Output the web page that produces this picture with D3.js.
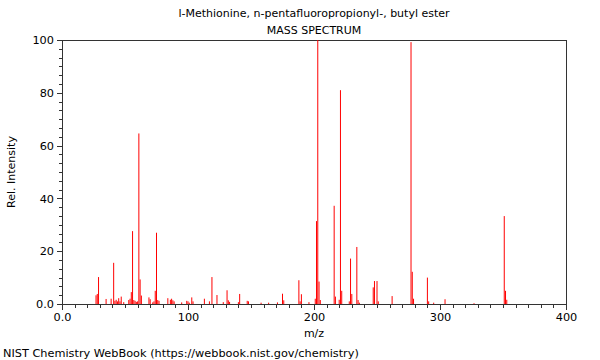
<!DOCTYPE html>
<html><head><meta charset="utf-8">
<script src="https://cdn.jsdelivr.net/npm/d3@7"></script>
<style>body{margin:0;background:#fff}svg{display:block}text{font-family:"DejaVu Sans",sans-serif;fill:#000}</style>
</head><body>
<svg id="c" width="600" height="360"></svg>
<script>
const title = "l-Methionine, n-pentafluoropropionyl-, butyl ester";
const subtitle = "MASS SPECTRUM";
const xLabel = "m/z";
const yLabel = "Rel. Intensity";
const footer = "NIST Chemistry WebBook (https://webbook.nist.gov/chemistry)";
const xTicks = [0, 100, 200, 300, 400];
const xTickLabels = ["0.0", "100", "200", "300", "400"];
const yTicks = [0, 20, 40, 60, 80, 100];
const yTickLabels = ["0.0", "20", "40", "60", "80", "100"];
const mz = [27,28,29,35,39,41,42,43,44,45,46,47,49,53,54,55,56,57,58,59,60,61,62,63,69,70,72,73,74,75,76,77,84,86,87,88,89,95,99,100,101,103,104,113,117,119,123,128,131,132,133,140,141,147,148,158,164,171,175,176,188,189,190,196,201,202,203,204,205,216,217,220,221,222,228,229,230,234,235,236,247,248,250,251,262,277,278,279,290,291,295,304,327,351,352,353];
const intensity = [3.3,3.8,10.2,1.9,2.0,15.6,1.2,1.6,1.0,2.2,1.0,2.8,0.7,1.5,2.0,4.5,27.6,1.5,1.2,0.8,1.0,64.6,9.3,3.2,2.5,1.8,0.6,1.0,5.0,27.0,1.5,1.2,2.2,1.6,2.0,1.4,1.0,0.6,1.2,1.0,0.5,2.5,1.0,2.0,1.0,10.2,3.4,0.7,5.2,1.4,0.8,0.7,3.8,1.2,1.0,0.5,0.5,0.6,3.9,1.4,9.0,1.0,3.7,0.7,2.0,31.4,100,8.5,1.5,37.2,2.8,1.6,81.0,5.0,1.0,17.2,3.8,21.6,1.5,0.5,6.3,8.7,8.7,1.0,3.0,99.2,12.2,2.0,10.0,1.0,0.5,1.8,0.3,33.3,5.0,1.6];

const svg = d3.select("#c");
const L = 62, R = 566, T = 40, B = 304;
const x = d3.scaleLinear().domain([0, 400]).range([L, R]);
const y = d3.scaleLinear().domain([0, 100]).range([B, T]);
const axisColor = "#333";

// frame
svg.append("rect").attr("x", L).attr("y", T).attr("width", R - L).attr("height", B - T)
  .attr("fill", "none").attr("stroke", axisColor).attr("stroke-width", 1).attr("shape-rendering", "crispEdges");

// bars
svg.append("g").selectAll("line").data(mz.map((m, i) => [m, intensity[i]])).join("line")
  .attr("x1", d => x(d[0])).attr("x2", d => x(d[0]))
  .attr("y1", y(0)).attr("y2", d => y(d[1]))
  .attr("stroke", "#ff0000").attr("stroke-width", 1);

// x minor ticks
const xMinor = d3.range(0, 401, 10).filter(v => v % 100 !== 0);
const gxm = svg.append("g").attr("transform", `translate(0,${B})`)
  .call(d3.axisBottom(x).tickValues(xMinor).tickSize(4).tickFormat("").tickSizeOuter(0));
const gx = svg.append("g").attr("transform", `translate(0,${B})`)
  .call(d3.axisBottom(x).tickValues(xTicks).tickSize(6).tickPadding(3).tickSizeOuter(0)
    .tickFormat((d, i) => xTickLabels[i]));
// y minor ticks
const yMinor = d3.range(0, 100.01, 20 / 6).filter((v, i) => i % 6 !== 0);
const gym = svg.append("g").attr("transform", `translate(${L},0)`)
  .call(d3.axisLeft(y).tickValues(yMinor).tickSize(3).tickFormat("").tickSizeOuter(0));
const gy = svg.append("g").attr("transform", `translate(${L},0)`)
  .call(d3.axisLeft(y).tickValues(yTicks).tickSize(5).tickPadding(3).tickSizeOuter(0)
    .tickFormat((d, i) => yTickLabels[i]));
[gxm, gx, gym, gy].forEach(g => {
  g.selectAll("path,line").attr("stroke", axisColor).attr("shape-rendering", "crispEdges");
  g.selectAll("text").style("font-family", "DejaVu Sans").style("font-size", "11.3px").attr("fill", "#000");
});

// texts
svg.append("text").attr("x", 314).attr("y", 17).attr("text-anchor", "middle").style("font-size", "11px").text(title);
svg.append("text").attr("x", 314).attr("y", 34).attr("text-anchor", "middle").style("font-size", "11px").text(subtitle);
svg.append("text").attr("x", 314).attr("y", 337).attr("text-anchor", "middle").style("font-size", "11px").text(xLabel);
svg.append("text").attr("transform", "translate(15,172) rotate(-90)").attr("text-anchor", "middle").style("font-size", "11px").text(yLabel);
svg.append("text").attr("x", 3).attr("y", 357).style("font-size", "11.3px").text(footer);
</script>
</body></html>
